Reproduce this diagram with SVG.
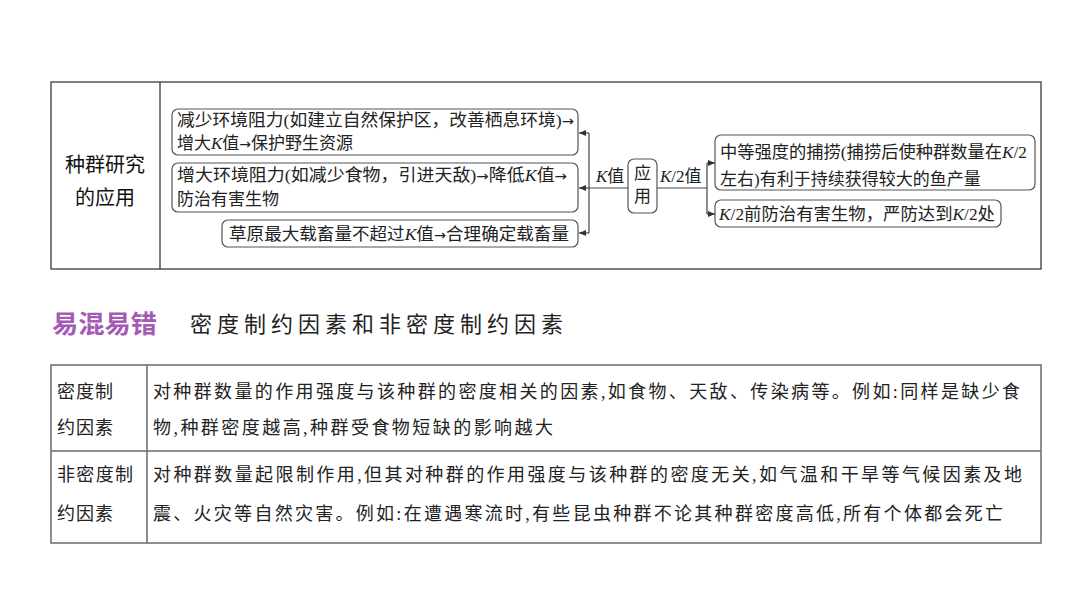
<svg xmlns="http://www.w3.org/2000/svg" width="1080" height="607" viewBox="0 0 1080 607">
<defs>
<style>
.frame{fill:none;stroke:#3a3a3a;stroke-width:1.3}
.tbl{fill:none;stroke:#6a6a6a;stroke-width:1.5}
.box{fill:#fff;stroke:#555;stroke-width:1.2}
.t{font-family:"Liberation Serif","Noto Sans CJK SC",serif;font-size:17px;fill:#222}
.k{font-style:italic}
.ar{font-family:"DejaVu Sans",sans-serif;font-size:14px}
.h{font-family:"Noto Sans CJK SC",sans-serif;font-size:20px;fill:#111}
.b{font-family:"Liberation Serif","Noto Sans CJK SC",serif;font-size:18px;fill:#222}
.line{fill:none;stroke:#444;stroke-width:1.2}
</style>
<marker id="ah" viewBox="0 0 6 6" refX="6" refY="3" markerWidth="6" markerHeight="6" orient="auto">
<path d="M0,0.5 L6,3 L0,5.5 z" fill="#333"/>
</marker>
</defs>
<rect width="1080" height="607" fill="#fff"/>

<g id="top-frame">
<rect class="frame" x="51" y="82" width="990" height="187"/>
<line class="frame" x1="160" y1="82" x2="160" y2="269"/>
<text class="h" x="105" y="172" text-anchor="middle">种群研究</text>
<text class="h" x="105" y="205" text-anchor="middle">的应用</text>
</g>

<g id="box-increase-k">
<rect class="box" x="172" y="109" width="406" height="46" rx="6"/>
<text class="t" x="177" y="126" textLength="397" lengthAdjust="spacingAndGlyphs">减少环境阻力(如建立自然保护区，改善栖息环境)<tspan class="ar">→</tspan></text>
<text class="t" x="177" y="149">增大<tspan class="k">K</tspan>值<tspan class="ar">→</tspan>保护野生资源</text>
</g>

<g id="box-decrease-k">
<rect class="box" x="172" y="163" width="406" height="49" rx="6"/>
<text class="t" x="177" y="181" textLength="390" lengthAdjust="spacingAndGlyphs">增大环境阻力(如减少食物，引进天敌)<tspan class="ar">→</tspan>降低<tspan class="k">K</tspan>值<tspan class="ar">→</tspan></text>
<text class="t" x="177" y="205">防治有害生物</text>
</g>

<g id="box-grassland">
<rect class="box" x="222" y="220" width="356" height="27" rx="6"/>
<text class="t" x="229" y="240" textLength="340" lengthAdjust="spacingAndGlyphs">草原最大载畜量不超过<tspan class="k">K</tspan>值<tspan class="ar">→</tspan>合理确定载畜量</text>
</g>

<g id="box-apply">
<rect class="box" x="628" y="159" width="29" height="54" rx="6"/>
<text class="t" x="642.5" y="179" text-anchor="middle">应</text>
<text class="t" x="642.5" y="202" text-anchor="middle">用</text>
</g>

<g id="box-fishing">
<rect class="box" x="715" y="135" width="320" height="55" rx="6"/>
<text class="t" x="720" y="158" textLength="307" lengthAdjust="spacingAndGlyphs">中等强度的捕捞(捕捞后使种群数量在<tspan class="k">K</tspan>/2</text>
<text class="t" x="720" y="185">左右)有利于持续获得较大的鱼产量</text>
</g>

<g id="box-pest">
<rect class="box" x="715" y="200" width="286" height="27" rx="6"/>
<text class="t" x="719" y="220" textLength="276" lengthAdjust="spacingAndGlyphs"><tspan class="k">K</tspan>/2前防治有害生物，严防达到<tspan class="k">K</tspan>/2处</text>
</g>

<g id="connectors">
<line class="line" x1="628" y1="188" x2="589" y2="188"/>
<line class="line" x1="589" y1="133" x2="589" y2="233"/>
<line class="line" x1="589" y1="133" x2="579" y2="133" marker-end="url(#ah)"/>
<line class="line" x1="589" y1="188" x2="579" y2="188" marker-end="url(#ah)"/>
<line class="line" x1="589" y1="233" x2="579" y2="233" marker-end="url(#ah)"/>
<line class="line" x1="657" y1="188" x2="707" y2="188"/>
<line class="line" x1="707" y1="163" x2="707" y2="214"/>
<line class="line" x1="707" y1="163" x2="715" y2="163" marker-end="url(#ah)"/>
<line class="line" x1="707" y1="214" x2="715" y2="214" marker-end="url(#ah)"/>
<text class="t" x="596" y="182"><tspan class="k">K</tspan>值</text>
<text class="t" x="660" y="182"><tspan class="k">K</tspan>/2值</text>
</g>

<g id="heading">
<text x="52" y="333" font-family="Noto Sans CJK SC,sans-serif" font-size="25" font-weight="bold" fill="#a35bb3" textLength="105" lengthAdjust="spacingAndGlyphs">易混易错</text>
<text x="190" y="332" font-family="Liberation Serif,Noto Sans CJK SC,serif" font-size="22" fill="#222" textLength="373" lengthAdjust="spacing">密度制约因素和非密度制约因素</text>
</g>

<g id="bottom-table">
<rect class="tbl" x="51" y="365" width="990" height="178"/>
<line class="tbl" x1="51" y1="451" x2="1041" y2="451"/>
<line class="tbl" x1="147" y1="365" x2="147" y2="543"/>
<text class="b" x="57" y="398" textLength="56" lengthAdjust="spacing">密度制</text>
<text class="b" x="57" y="434" textLength="56" lengthAdjust="spacing">约因素</text>
<text class="b" x="57" y="481" textLength="76" lengthAdjust="spacing">非密度制</text>
<text class="b" x="57" y="520" textLength="56" lengthAdjust="spacing">约因素</text>
<text class="b" x="153" y="398" textLength="867" lengthAdjust="spacing">对种群数量的作用强度与该种群的密度相关的因素,如食物、天敌、传染病等。例如:同样是缺少食</text>
<text class="b" x="153" y="434" textLength="400" lengthAdjust="spacing">物,种群密度越高,种群受食物短缺的影响越大</text>
<text class="b" x="153" y="481" textLength="869" lengthAdjust="spacing">对种群数量起限制作用,但其对种群的作用强度与该种群的密度无关,如气温和干旱等气候因素及地</text>
<text class="b" x="153" y="520" textLength="850" lengthAdjust="spacing">震、火灾等自然灾害。例如:在遭遇寒流时,有些昆虫种群不论其种群密度高低,所有个体都会死亡</text>
</g>
</svg>
